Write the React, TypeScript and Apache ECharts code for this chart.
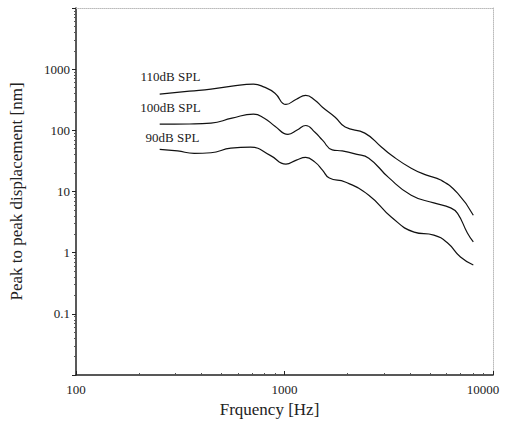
import React, { useEffect, useRef } from "react";
import * as echarts from "echarts";

// 110 dB SPL curve
const freq110 = [252, 350, 444, 560, 710, 800, 900, 1016, 1140, 1264, 1400, 1521, 1750, 1954, 2428, 2923, 3260, 4052, 4800, 5615, 6760, 8046];
const disp110 = [390, 437, 471, 527, 569, 508, 405, 265, 323, 372, 311, 239, 164, 113, 90, 53, 39, 24, 18.5, 15.4, 9.4, 4.1];

// 100 dB SPL curve
const freq100 = [252, 350, 444, 560, 710, 800, 900, 1039, 1150, 1264, 1400, 1521, 1695, 1891, 2200, 2537, 3153, 4052, 5203, 6263, 6760, 7537, 8046];
const disp100 = [126, 127, 131, 158, 184, 158, 117, 86, 101, 120, 93, 69, 48, 46, 40.8, 35, 17, 8.7, 6.5, 5.4, 4.4, 2.1, 1.5];

// 90 dB SPL curve
const freq90 = [252, 307, 369, 444, 553, 687, 854, 1016, 1140, 1264, 1400, 1521, 1641, 1954, 2537, 3260, 4185, 5203, 6060, 6982, 8046];
const disp90 = [49, 46, 42, 43, 51, 53, 39, 28, 32.6, 36, 30.2, 22.4, 16.6, 14.3, 8.7, 3.8, 2.17, 1.94, 1.44, 0.85, 0.63];

const seriesNames = ["110dB SPL", "100dB SPL", "90dB SPL"];
// label anchors [freq, displacement]
const labelAnchors: [number, number][] = [
  [284, 769],
  [284, 239],
  [290, 77.5],
];

const FONT = "Liberation Serif";

export default function App() {
  const ref = useRef<HTMLDivElement>(null);
  useEffect(() => {
    if (!ref.current) return;
    const chart = echarts.init(ref.current, undefined, { renderer: "svg" });
    const curves = [
      [freq110, disp110],
      [freq100, disp100],
      [freq90, disp90],
    ];
    chart.setOption({
      animation: false,
      grid: { left: 70, right: 12, top: 8, bottom: 57 },
      xAxis: [
        {
          type: "log",
          logBase: 10,
          min: 100,
          max: 10000,
          name: "Frquency [Hz]",
          nameLocation: "middle",
          nameGap: 25,
          nameTextStyle: { fontFamily: FONT, fontSize: 17, color: "#222", padding: [0, 30, 0, 0] },
          axisLine: { lineStyle: { color: "#222", width: 1.5 } },
          axisTick: { inside: true, length: 4, lineStyle: { color: "#222" } },
          minorTick: { show: true, splitNumber: 9, length: 2, lineStyle: { color: "#555" } },
          splitLine: { show: false },
          axisLabel: {
            fontFamily: FONT,
            fontSize: 13,
            color: "#222",
            margin: 8,
            formatter: (v: number) => (v > 5000 ? "{r|10000}" : String(Math.round(v))),
            rich: { r: { fontFamily: FONT, fontSize: 13, color: "#222", padding: [0, 20, 0, 0] } },
          },
        },
        {
          type: "log",
          position: "top",
          min: 100,
          max: 10000,
          axisLine: { show: true, lineStyle: { color: "#bbb", width: 1, type: "dotted" } },
          axisTick: { show: false },
          axisLabel: { show: false },
          splitLine: { show: false },
        },
      ],
      yAxis: [
        {
          type: "log",
          logBase: 10,
          min: 0.01,
          max: 10000,
          name: "Peak to peak displacement [nm]",
          nameLocation: "middle",
          nameGap: 51,
          nameTextStyle: { fontFamily: FONT, fontSize: 17, color: "#222" },
          axisLine: { show: true, lineStyle: { color: "#222", width: 1.5 } },
          axisTick: { show: true, inside: false, length: 4, lineStyle: { color: "#222" } },
          minorTick: { show: true, splitNumber: 9, length: 2, lineStyle: { color: "#555" } },
          splitLine: { show: false },
          axisLabel: {
            fontFamily: FONT,
            fontSize: 13,
            color: "#222",
            margin: 6,
            formatter: (v: number) => {
              if (v < 0.05 || v > 5000) return "";
              if (v < 0.5) return "0.1";
              return String(Math.round(v));
            },
          },
        },
        {
          type: "log",
          position: "right",
          min: 0.01,
          max: 10000,
          axisLine: { show: true, lineStyle: { color: "#bbb", width: 1, type: "dotted" } },
          axisTick: { show: false },
          axisLabel: { show: false },
          splitLine: { show: false },
        },
      ],
      series: curves.map(([f, d], i) => ({
        name: seriesNames[i],
        type: "line",
        smooth: 0.5,
        symbol: "none",
        data: f.map((x, j) => [x, d[j]]),
        lineStyle: { color: "#111", width: 1.2 },
        markPoint: {
          symbol: "circle",
          symbolSize: 0,
          silent: true,
          data: [
            {
              coord: labelAnchors[i],
              label: {
                show: true,
                position: "inside",
                formatter: seriesNames[i],
                fontFamily: FONT,
                fontSize: 13,
                color: "#222",
              },
            },
          ],
        },
      })),
    });
    return () => chart.dispose();
  }, []);
  return <div ref={ref} style={{ width: 505, height: 432, position: "absolute", left: 0, top: 0 }} />;
}
